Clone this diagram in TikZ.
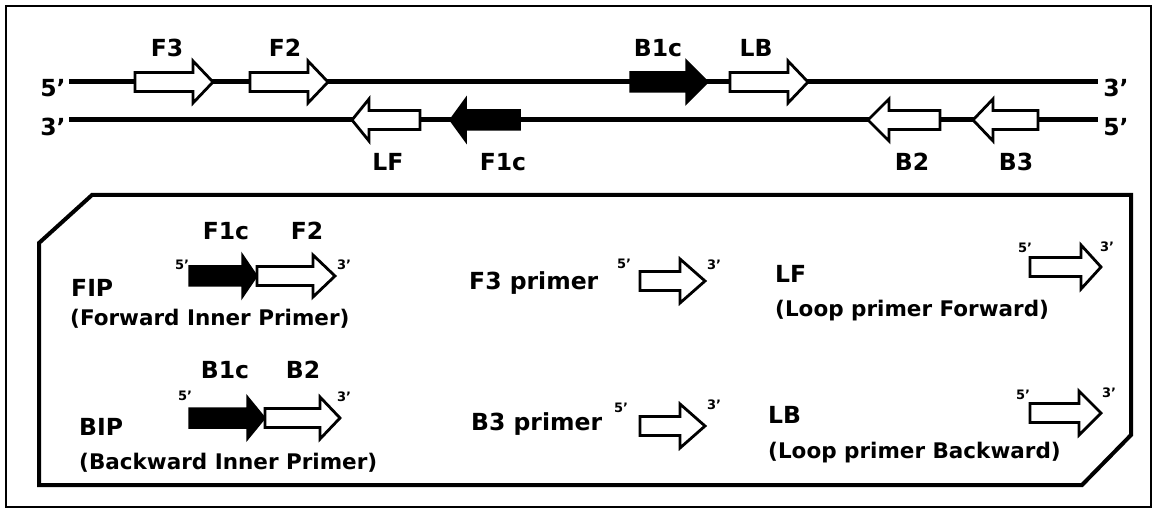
\documentclass[tikz,border=0pt]{standalone}
\usepackage{fontspec}
\setmainfont{DejaVu Sans}
\newcommand{\blockarr}[7]{%
  \draw[#1] ({#2},{#5-#6}) -- ({#3},{#5-#6}) -- ({#3},{#5-#7}) -- ({#4},{#5}) -- ({#3},{#5+#7}) -- ({#3},{#5+#6}) -- ({#2},{#5+#6}) -- cycle;}
\tikzset{
  lbl/.style={font=\fontsize{23.5}{23.5}\selectfont\bfseries, inner sep=0},
  desc/.style={font=\fontsize{21.5}{21.5}\selectfont\bfseries, inner sep=0, anchor=west},
  tiny/.style={font=\fontsize{13}{13}\selectfont\bfseries, inner sep=0},
  openarr/.style={draw=black, line width=2.8, fill=white, line join=miter},
  solidarr/.style={draw=black, line width=1.5, fill=black, line join=miter},
  strand/.style={line width=5},
  frame/.style={line width=2},
  legendbox/.style={line width=4, line join=miter},
}
\begin{document}
\begin{tikzpicture}[x=1pt,y=-1pt]
\useasboundingbox (0,0) rectangle (1155,510);
\fill[white] (0,0) rectangle (1155,510);
% outer frame
\draw[frame] (6,6) rectangle (1151,507);
% strands
\coordinate (t1) at (69,82);
\coordinate (t2) at (1098,82);
\coordinate (b1) at (69,120);
\coordinate (b2) at (1098,120);
\draw[strand] (t1) -- (t2);
\draw[strand] (b1) -- (b2);
\node[lbl] (l5a) at (53,88) {5'};
\node[lbl] (l3a) at (53,127) {3'};
\node[lbl] (r3a) at (1116,88) {3'};
\node[lbl] (r5a) at (1116,127) {5'};
% top strand arrows
\blockarr{openarr}{135}{193}{213}{82}{9.5}{21}
\blockarr{openarr}{250}{308}{328}{82}{9.5}{21}
\blockarr{solidarr}{630}{686}{708}{82}{10}{22}
\blockarr{openarr}{730}{788}{808}{82}{9.5}{21}
% bottom strand arrows
\blockarr{openarr}{420}{369}{352}{120}{9.5}{21}
\blockarr{solidarr}{520}{466}{450}{120}{10}{22}
\blockarr{openarr}{940}{889}{868}{120}{9.5}{21}
\blockarr{openarr}{1038}{993}{973}{120}{9.5}{21}
% strand labels
\node[lbl] (nF3) at (167,48) {F3};
\node[lbl] (nF2) at (285,48) {F2};
\node[lbl] (nB1c) at (658,48) {B1c};
\node[lbl] (nLB) at (756,48) {LB};
\node[lbl] (nLF) at (388,162) {LF};
\node[lbl] (nF1c) at (503,162) {F1c};
\node[lbl] (nB2) at (912,162) {B2};
\node[lbl] (nB3) at (1016,162) {B3};
% legend box
\draw[legendbox] (92,195) -- (1131,195) -- (1131,435) -- (1082,485) -- (39,485) -- (39,243) -- cycle;
% FIP
\node[lbl] (fipc) at (226,231) {F1c};
\node[lbl] (fip2) at (307,231) {F2};
\node[lbl,anchor=west] (fip) at (71,288) {FIP};
\node[desc] (fipd) at (70,319) {(Forward Inner Primer)};
\blockarr{solidarr}{189}{242}{257}{276}{10}{22}
\blockarr{openarr}{257}{313}{335}{276}{9.5}{21}
\node[tiny] (fip5) at (182,265) {5'};
\node[tiny] (fip3) at (344,265) {3'};
% BIP
\node[lbl] (bipc) at (225,370) {B1c};
\node[lbl] (bip2) at (303,370) {B2};
\node[lbl,anchor=west] (bip) at (79,427) {BIP};
\node[desc] (bipd) at (79,463) {(Backward Inner Primer)};
\blockarr{solidarr}{189}{247}{265}{418}{10}{22}
\blockarr{openarr}{265}{320}{340}{418}{9.5}{21}
\node[tiny] (bip5) at (185,396) {5'};
\node[tiny] (bip3) at (344,397) {3'};
% F3 / B3 primers
\node[lbl,anchor=west] (f3p) at (469,283) {F3 primer};
\blockarr{openarr}{640}{680}{705}{281}{9.5}{22}
\node[tiny] (f3p5) at (624,264) {5'};
\node[tiny] (f3p3) at (714,265) {3'};
\node[lbl,anchor=west] (b3p) at (471,424) {B3 primer};
\blockarr{openarr}{640}{680}{705}{426}{9.5}{22}
\node[tiny] (b3p5) at (621,408) {5'};
\node[tiny] (b3p3) at (714,405) {3'};
% LF / LB
\node[lbl,anchor=west] (lf) at (775,274) {LF};
\node[desc] (lfd) at (775,311) {(Loop primer Forward)};
\blockarr{openarr}{1030}{1081}{1101}{267}{9.5}{22}
\node[tiny] (lf5) at (1025,248) {5'};
\node[tiny] (lf3) at (1107,247) {3'};
\node[lbl,anchor=west] (lb) at (768,415) {LB};
\node[desc] (lbd) at (768,453) {(Loop primer Backward)};
\blockarr{openarr}{1030}{1079}{1101}{413}{9.5}{22}
\node[tiny] (lb5) at (1023,395) {5'};
\node[tiny] (lb3) at (1109,393) {3'};
\end{tikzpicture}
\end{document}
